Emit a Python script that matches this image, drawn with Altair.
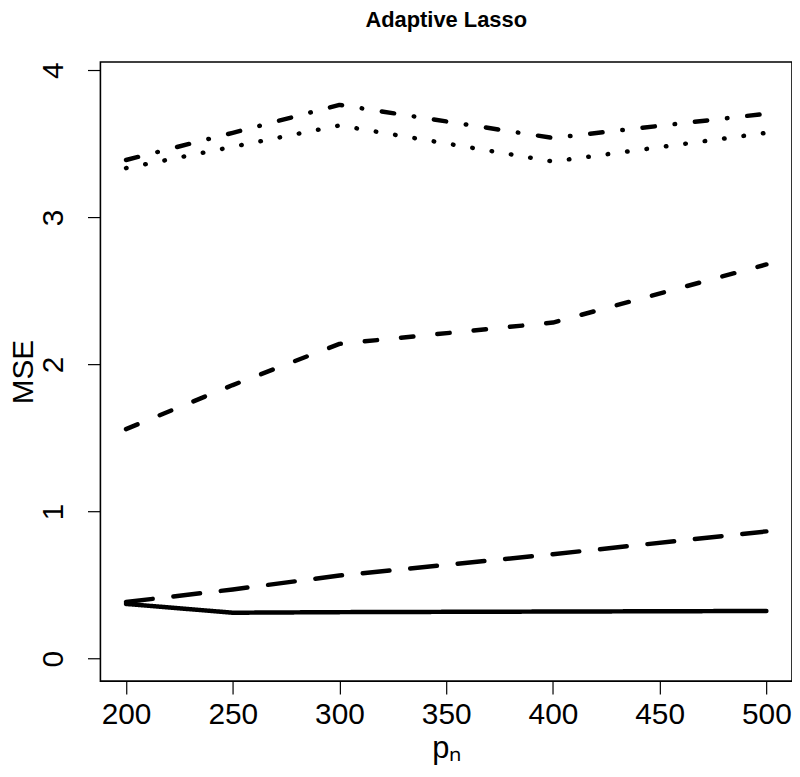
import altair as alt
import pandas as pd

p_n = [200, 250, 300, 400, 500]
series_names = ["s1", "s2", "s3", "s4", "s5"]
solid = [0.372, 0.312, 0.316, 0.320, 0.324]
longdash = [0.385, 0.470, 0.565, 0.710, 0.865]
dashed = [1.560, 1.860, 2.140, 2.285, 2.680]
dotted = [3.335, 3.480, 3.625, 3.380, 3.575]
dotdash = [3.390, 3.575, 3.765, 3.540, 3.705]

dash_patterns = [[1, 0], [27, 21], [12.5, 24.2], [0.5, 19.2], [12.5, 20, 0.5, 20]]

rows = []
for name, vals in zip(series_names, [solid, longdash, dashed, dotted, dotdash]):
    for x, y in zip(p_n, vals):
        rows.append({"p": x, "mse": y, "series": name})
df = pd.DataFrame(rows)

FONT = "Liberation Sans"

chart = alt.Chart(df).mark_line(
    color="black", strokeWidth=4.5, strokeCap="round", strokeJoin="round"
).encode(
    x=alt.X("p:Q", scale=alt.Scale(domain=[188, 512], nice=False, zero=False),
            axis=alt.Axis(values=[200, 250, 300, 350, 400, 450, 500], title="pₙ",
                          grid=False, domain=False, tickSize=13, tickColor="black",
                          tickWidth=1.2, labelFontSize=30, labelFont=FONT,
                          labelColor="black", labelPadding=6, labelFlush=False,
                          titleFont=FONT, titleFontSize=31, titleFontWeight="normal",
                          titleColor="black", titlePadding=4)),
    y=alt.Y("mse:Q", scale=alt.Scale(domain=[-0.153, 4.056], nice=False, zero=False),
            axis=alt.Axis(values=[0, 1, 2, 3, 4], title="MSE",
                          grid=False, domain=False, tickSize=13, tickColor="black",
                          tickWidth=1.2, labelFontSize=30, labelFont=FONT,
                          labelColor="black", labelAngle=270, labelAlign="center",
                          labelBaseline="bottom", labelPadding=19, labelFlush=False,
                          titleFont=FONT, titleFontSize=30, titleFontWeight="normal",
                          titleColor="black", titlePadding=0)),
    strokeDash=alt.StrokeDash("series:N",
                              scale=alt.Scale(domain=series_names, range=dash_patterns),
                              legend=None),
    detail="series:N",
).properties(
    width=696,
    height=623,
    background="white",
    view=alt.ViewBackground(stroke="#000000", strokeWidth=1.6, strokeOpacity=1, fill="white"),
    title=alt.TitleParams("Adaptive Lasso", font=FONT, fontSize=22, fontWeight="bold",
                          color="black", anchor="middle", offset=30),
    padding={"left": 93, "top": 52, "right": 0, "bottom": 82},
    autosize=alt.AutoSizeParams(type="none"),
).configure_view(stroke="#000000", strokeWidth=1.6)

chart.save("out.html", embed_options={"renderer": "svg", "actions": False})
